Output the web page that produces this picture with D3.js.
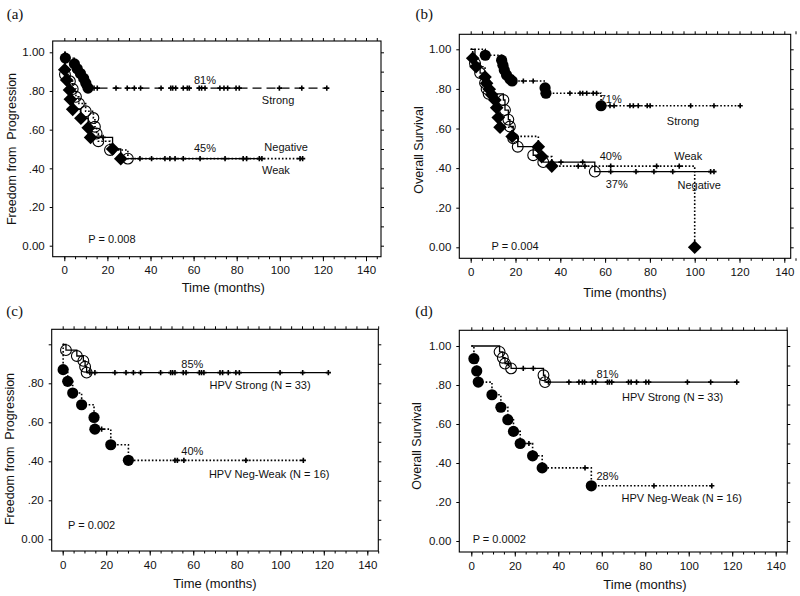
<!DOCTYPE html>
<html><head><meta charset="utf-8">
<script src="https://cdn.jsdelivr.net/npm/d3@7/dist/d3.min.js"></script>
<style>
body{margin:0;background:#fff}
svg{display:block}
text{font-family:"Liberation Sans",Arial,sans-serif;fill:#111}
</style>
</head><body>
<svg id="chart" width="800" height="596"></svg>
<script>
// ---------- DATA ----------
const timeTicks = [0, 20, 40, 60, 80, 100, 120, 140];
const survTicks = [0, 0.2, 0.4, 0.6, 0.8, 1.0];
const survTickLabels = ["0.00", ".20", ".40", ".60", ".80", "1.00"];

// (a) Freedom from progression by HPV staining
const aStrongEvents = [[0.5,0.97],[4.7,0.94],[6,0.915],[7.5,0.89],[9,0.865],[10,0.84],[11,0.815]];
const aStrongCensored = [13.8,15.3,24,29.2,32.5,35.4,44.9,49.4,50.3,51.7,55.2,57.1,58,62.6,63.7,65.3,72.2,74.1,75.8,79.7,81.2,99.8,110.2,121.8];
const aWeakEvents = [[0.2,0.91],[1.1,0.857],[2.4,0.805],[2.8,0.757],[3.9,0.705],[7.7,0.659],[11.1,0.61],[12.2,0.56],[22.4,0.50],[26.2,0.45]];
const aWeakCensored = [18,35.1,46.7,51.4,63,74.6,84.6,91.7];
const aNegEvents = [[0.3,0.885],[2.6,0.85],[3.9,0.81],[5.4,0.77],[6.8,0.735],[9.9,0.695],[13.5,0.66],[14.2,0.615],[15,0.58],[15.8,0.54],[21.2,0.495],[29.5,0.45]];
const aNegCensored = [40.5,49,55.2,83,90.5,109.4,110.6];

// (b) Overall survival by HPV staining
const bStrongEvents = [[6.5,0.97],[13.8,0.945],[14.4,0.92],[15,0.895],[16,0.87],[17.5,0.85],[18.5,0.84],[33.2,0.805],[33.6,0.778],[58.2,0.715]];
const bStrongCensored = [23.5,27.9,44.3,48.8,50,51.8,54.7,56.2,62.2,64,71.1,72.6,74.8,78.8,80.1,98.2,108.6,120.3];
const bWeakEvents = [[0.9,0.955],[2.4,0.912],[6.4,0.86],[7.1,0.828],[8.3,0.798],[9.4,0.77],[10.8,0.744],[11.6,0.705],[12.3,0.655],[13.1,0.606],[18.5,0.56],[30.2,0.508],[31.7,0.458],[36.2,0.41],[100,0]];
const bWeakCensored = [48,51,62.5,83,93.1];
const bNegEvents = [[1.9,0.93],[4.2,0.88],[6.4,0.83],[7.1,0.80],[8,0.775],[14.6,0.744],[15.3,0.693],[16.8,0.645],[17.5,0.61],[19,0.55],[21,0.508],[27.9,0.465],[32.4,0.43],[55.4,0.382]];
const bNegCensored = [40.3,50,62.5,73.8,81.8,90.2,107.1,108.6];

// (c) Freedom from progression, strong vs neg-weak
const cStrongEvents = [[1.5,0.97],[6.5,0.94],[9.5,0.915],[10.3,0.885],[11,0.855]];
const cStrongCensored = [12.5,14.8,24,29.1,32.5,35.8,45,49.6,50.5,51.6,55.4,56.7,62.8,63.8,64.9,72.3,73.5,76.1,79.6,81.2,99.9,110.3,122.1];
const cNegWeakEvents = [[0.2,0.87],[2.3,0.81],[4.6,0.75],[8.7,0.69],[14.4,0.625],[14.8,0.565],[22.1,0.485],[30.2,0.405]];
const cNegWeakCensored = [17.9,51.6,52.7,55.7,84.2,110.6];

// (d) Overall survival, strong vs neg-weak
const dStrongEvents = [[13,0.97],[14.5,0.94],[15.5,0.91],[18.3,0.885],[33.2,0.85],[33.9,0.815]];
const dStrongCensored = [17,23.9,28.5,35.5,44.9,49.5,51.1,52.1,55.7,57.2,62.6,63.5,64.6,72.3,73.5,76,80.3,81.6,99.4,110.1,122.1];
const dNegWeakEvents = [[1.2,0.935],[2.5,0.872],[3.2,0.815],[9.5,0.75],[13.6,0.686],[16.8,0.622],[19.4,0.562],[22.5,0.5],[28.2,0.437],[32.6,0.375],[55.2,0.283]];
const dNegWeakCensored = [26.5,52.3,84,110.6];

// ---------- LAYOUT / STYLE ----------
const panels = [
  { label:"(a)", labelXY:[15,13.5], frame:[52.7,41,381,256.7], xr:[64.3,366], yr:[245.7,52.3],
    yTitle:"Freedom from  Progression", yTitleXY:[12,149], xTitleXY:[223.3,287.5], showOne:true,
    series:[
      {ev:aNegEvents, cens:aNegCensored, line:"dotted", mk:"open"},
      {ev:aWeakEvents, cens:aWeakCensored, line:"solid", mk:"diamond"},
      {ev:aStrongEvents, cens:aStrongCensored, line:"dashed", mk:"filled"}],
    notes:[["81%",65.3,0.857],["Strong",99.2,0.753],["45%",65.3,0.505],["Negative",102.9,0.51],["Weak",98.2,0.392],["P = 0.008",22.1,0.035]] },
  { label:"(b)", labelXY:[424.3,13.5], frame:[459.3,34.3,790.7,258.3], xr:[470.7,784.3], yr:[247.3,49.3],
    yTitle:"Overall Survival", yTitleXY:[418.3,150], xTitleXY:[625,292.7], showOne:true,
    series:[
      {ev:bNegEvents, cens:bNegCensored, line:"solid", mk:"open"},
      {ev:bWeakEvents, cens:bWeakCensored, line:"dotted", mk:"diamond"},
      {ev:bStrongEvents, cens:bStrongCensored, line:"dotted", mk:"filled"}],
    notes:[["71%",62.5,0.749],["Strong",94.8,0.639],["40%",62.5,0.461],["Weak",97.1,0.458],["37%",65.2,0.318],["Negative",102,0.315],["P = 0.004",19.8,0.007]] },
  { label:"(c)", labelXY:[14.7,311], frame:[51.7,329.3,378.3,551], xr:[62.7,367.3], yr:[539.3,344.3],
    yTitle:"Freedom from  Progression", yTitleXY:[10,449], xTitleXY:[215,583.3], showOne:false,
    series:[
      {ev:cStrongEvents, cens:cStrongCensored, line:"solid", mk:"open"},
      {ev:cNegWeakEvents, cens:cNegWeakCensored, line:"dotted", mk:"filled"}],
    notes:[["85%",59.6,0.9],["HPV Strong (N = 33)",90.7,0.791],["40%",59.6,0.453],["HPV Neg-Weak (N = 16)",94.9,0.333],["P = 0.002",13.3,0.072]] },
  { label:"(d)", labelXY:[424,311], frame:[459.3,330.3,787.3,552], xr:[471.3,775.7], yr:[541,346],
    yTitle:"Overall Survival", yTitleXY:[416.7,446], xTitleXY:[645,584.3], showOne:true,
    series:[
      {ev:dStrongEvents, cens:dStrongCensored, line:"solid", mk:"open"},
      {ev:dNegWeakEvents, cens:dNegWeakCensored, line:"dotted", mk:"filled"}],
    notes:[["81%",62.6,0.855],["HPV Strong (N = 33)",92.6,0.74],["28%",62.6,0.333],["HPV Neg-Weak (N = 16)",96.8,0.222],["P = 0.0002",12.9,0.012]] }
];

const dashFor = {solid:null, dotted:"1.6,2", dashed:"9,5"};

const svg = d3.select("#chart");

function stepPoints(ev, endT){
  const pts = [[0,1]]; let s = 1;
  ev.forEach(([t,v]) => { pts.push([t,s]); pts.push([t,v]); s = v; });
  pts.push([Math.max(endT, pts[pts.length-1][0]), s]);
  return pts;
}
function survAt(ev, t){ let s = 1; ev.forEach(([te,v]) => { if (te <= t) s = v; }); return s; }

function yFmt(d){ const i = survTicks.findIndex(v => Math.abs(v-d) < 1e-6); return survTickLabels[i]; }

panels.forEach(p => {
  const g = svg.append("g");
  const x = d3.scaleLinear().domain([0,140]).range(p.xr);
  const y = d3.scaleLinear().domain([0,1]).range(p.yr);
  const [L,T,R,B] = p.frame;

  const styleAxis = sel => { sel.select(".domain").remove(); sel.selectAll("line").attr("stroke","#000").attr("stroke-width",1); };
  g.append("g").attr("transform",`translate(0,${T})`)
    .call(d3.axisTop(x).tickValues(d3.range(0,146,5)).tickSize(3).tickFormat("")).call(styleAxis);
  g.append("g").attr("transform",`translate(0,${B})`)
    .call(d3.axisBottom(x).tickValues(d3.range(0,146,5)).tickSize(2.5).tickFormat("")).call(styleAxis);
  g.append("g").attr("transform",`translate(${R},0)`)
    .call(d3.axisRight(y).tickValues(d3.range(0,1.001,0.1)).tickSize(3).tickFormat("")).call(styleAxis);

  const xa = g.append("g").attr("transform",`translate(0,${B})`)
    .call(d3.axisBottom(x).tickValues(timeTicks).tickSize(4.5).tickPadding(5).tickFormat(d3.format("d")));
  styleAxis(xa);
  xa.selectAll("text").attr("font-size",11.5).attr("font-family","'Liberation Sans',Arial,sans-serif").attr("fill","#111");

  const yVals = p.showOne ? survTicks : survTicks.filter(v => v < 1);
  const ya = g.append("g").attr("transform",`translate(${L},0)`)
    .call(d3.axisLeft(y).tickValues(yVals).tickSize(3).tickPadding(5).tickFormat(yFmt));
  styleAxis(ya);
  ya.selectAll("text").attr("font-size",11.5).attr("font-family","'Liberation Sans',Arial,sans-serif").attr("fill","#111");
  if (!p.showOne) {
    g.append("g").attr("transform",`translate(${L},0)`)
      .call(d3.axisLeft(y).tickValues([1]).tickSize(3).tickFormat("")).call(styleAxis);
  }

  g.append("rect").attr("x",L).attr("y",T).attr("width",R-L).attr("height",B-T)
    .attr("fill","none").attr("stroke","#000").attr("stroke-width",1.1);

  const line = d3.line().x(d => x(d[0])).y(d => y(d[1]));
  p.series.forEach(s => {
    const endT = d3.max(s.cens.concat(s.ev.map(e => e[0])));
    g.append("path").datum(stepPoints(s.ev, endT)).attr("d", line)
      .attr("fill","none").attr("stroke","#000")
      .attr("stroke-width", s.line === "dotted" ? 1.6 : 1.3)
      .attr("stroke-dasharray", dashFor[s.line]);
  });
  p.series.forEach(s => {
    g.append("g").selectAll("path").data(s.cens).join("path")
      .attr("d", t => { const cx = x(t), cy = y(survAt(s.ev, t)); return `M${cx-2.6},${cy}h5.2M${cx},${cy-2.6}v5.2`; })
      .attr("stroke","#000").attr("stroke-width",1.6).attr("fill","none");
  });
  p.series.forEach(s => {
    const mg = g.append("g");
    s.ev.forEach(([t,v]) => {
      const cx = x(t), cy = y(v);
      if (s.mk === "filled") mg.append("circle").attr("cx",cx).attr("cy",cy).attr("r",5.6).attr("fill","#000");
      else if (s.mk === "open") mg.append("circle").attr("cx",cx).attr("cy",cy).attr("r",5.4).attr("fill","none").attr("stroke","#000").attr("stroke-width",1.1);
      else { const h = 6.8; mg.append("path").attr("d",`M${cx},${cy-h}L${cx+h},${cy}L${cx},${cy+h}L${cx-h},${cy}Z`).attr("fill","#000"); }
    });
  });

  p.notes.forEach(([txt,t,v]) => {
    g.append("text").attr("x", x(t)).attr("y", y(v)).attr("dy","0.35em")
      .attr("text-anchor","middle").attr("font-size",11).text(txt);
  });

  g.append("text").attr("x",p.xTitleXY[0]).attr("y",p.xTitleXY[1]).attr("dy","0.35em")
    .attr("text-anchor","middle").attr("font-size",13).text("Time (months)");
  g.append("text").attr("transform",`translate(${p.yTitleXY[0]},${p.yTitleXY[1]}) rotate(-90)`).attr("dy","0.35em")
    .attr("text-anchor","middle").attr("font-size",12.5).style("white-space","pre").text(p.yTitle);
  g.append("text").attr("x",p.labelXY[0]).attr("y",p.labelXY[1]).attr("dy","0.35em")
    .attr("text-anchor","middle").attr("font-size",15)
    .style("font-family","'Liberation Serif','Times New Roman',serif").text(p.label);
});
</script>
</body></html>
